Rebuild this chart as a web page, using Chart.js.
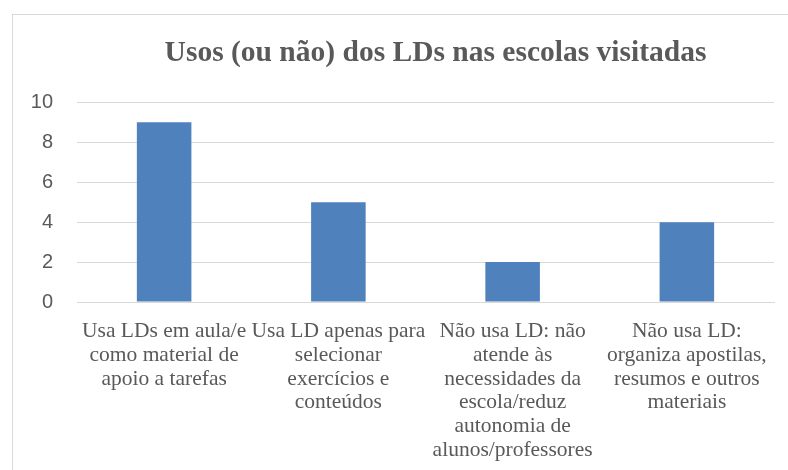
<!DOCTYPE html>
<html lang="pt">
<head>
<meta charset="UTF-8">
<title>Usos (ou não) dos LDs nas escolas visitadas</title>
<script src="https://cdn.jsdelivr.net/npm/chart.js"></script>
<style>
    body { margin: 0; background: #fff; overflow: hidden; width: 788px; height: 470px; position: relative; }
    /* chart frame runs off the right and bottom of the picture */
    .frame {
        position: absolute; left: 12px; top: 14px;
        width: 845px; height: 470px;
        border-left: 1px solid #d9d9d9; border-top: 1px solid #d9d9d9;
    }
    canvas { display: block; }
</style>
</head>
<body>
<div class="frame">
    <canvas id="chart" width="845" height="455"></canvas>
</div>
<script>
    const chartTitle = 'Usos (ou não) dos LDs nas escolas visitadas';
    const categories = [
        ['Usa LDs em aula/e', 'como material de', 'apoio a tarefas'],
        ['Usa LD apenas para', 'selecionar', 'exercícios e', 'conteúdos'],
        ['Não usa LD: não', 'atende às', 'necessidades da', 'escola/reduz', 'autonomia de', 'alunos/professores'],
        ['Não usa LD:', 'organiza apostilas,', 'resumos e outros', 'materiais']
    ];
    const values = [9, 5, 2, 4];
    const yTicks = [0, 2, 4, 6, 8, 10];

    const textColor = '#595959';
    const gridColor = '#d9d9d9';
    const serif = '"Liberation Serif", "Times New Roman", serif';

    new Chart(document.getElementById('chart'), {
        type: 'bar',
        data: {
            labels: categories,
            datasets: [{
                data: values,
                backgroundColor: '#4f81bd',
                categoryPercentage: 1,
                barPercentage: 0.313
            }]
        },
        options: {
            responsive: false,
            animation: false,
            layout: { padding: 0 },
            plugins: {
                legend: { display: false },
                tooltip: { enabled: false },
                title: {
                    display: true,
                    text: chartTitle,
                    color: textColor,
                    font: { family: serif, size: 29.5, weight: 'bold' },
                    padding: { top: 21, bottom: 31 }
                }
            },
            scales: {
                x: {
                    grid: { display: false, drawTicks: false },
                    border: { display: true, color: gridColor },
                    ticks: {
                        color: textColor,
                        autoSkip: false,
                        maxRotation: 0,
                        padding: 18,
                        font: { family: serif, size: 21.5, lineHeight: 1.1 }
                    },
                    afterFit: s => { s.height = 168; }
                },
                y: {
                    min: 0,
                    max: 10,
                    afterBuildTicks: s => { s.ticks = yTicks.map(v => ({ value: v })); },
                    grid: { color: gridColor, drawTicks: false },
                    border: { display: false },
                    ticks: {
                        color: textColor,
                        padding: 24,
                        font: { family: '"Liberation Sans", Arial, sans-serif', size: 20 }
                    },
                    afterFit: s => { s.width = 64; }
                },
                // empty space on the right of the plot, keeps the title centred on the whole frame
                yRight: {
                    position: 'right',
                    grid: { display: false, drawTicks: false },
                    border: { display: false },
                    ticks: { display: false },
                    afterFit: s => { s.width = 84; }
                }
            }
        }
    });
</script>
</body>
</html>
